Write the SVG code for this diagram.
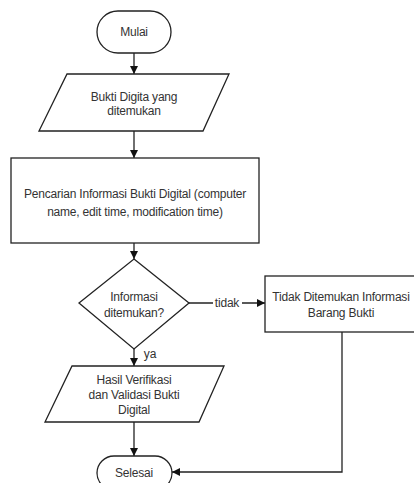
<svg xmlns="http://www.w3.org/2000/svg" width="414" height="483" viewBox="0 0 414 483">
<defs>
<style>
.s{fill:#fff;stroke:#222;stroke-width:1.3}
.t{font-family:"Liberation Sans",Arial,sans-serif;font-size:12px;fill:#333;text-anchor:middle;letter-spacing:-0.2px}
.c{fill:none;stroke:#222;stroke-width:1.3}
</style>
<marker id="a" viewBox="0 0 10 10" refX="10" refY="5" markerWidth="8" markerHeight="9" markerUnits="userSpaceOnUse" orient="auto"><path d="M0,0L10,5L0,10z" fill="#111"/></marker>
</defs>
<rect width="414" height="483" fill="#fff"/>
<g id="connectors">
<line class="c" x1="134" y1="53" x2="134" y2="74" marker-end="url(#a)"/>
<line class="c" x1="134" y1="131" x2="134" y2="158" marker-end="url(#a)"/>
<line class="c" x1="134" y1="243" x2="134" y2="259" marker-end="url(#a)"/>
<line class="c" x1="189" y1="303" x2="265" y2="303" marker-end="url(#a)"/>
<line class="c" x1="134" y1="349" x2="134" y2="366" marker-end="url(#a)"/>
<line class="c" x1="134" y1="422" x2="134" y2="456" marker-end="url(#a)"/>
<polyline class="c" points="342,332 342,472 172,472" marker-end="url(#a)"/>
<rect x="213" y="297" width="29" height="12" fill="#fff"/>
<text class="t" x="227" y="307">tidak</text>
<text class="t" x="150" y="358">ya</text>
</g>
<g id="mulai">
<rect class="s" x="97" y="11" width="74" height="42" rx="21"/>
<text class="t" x="134" y="36">Mulai</text>
</g>
<g id="bukti">
<polygon class="s" points="67,74 229,74 203,131 39,131"/>
<text class="t" x="134" y="101">Bukti Digita yang</text>
<text class="t" x="134" y="115">ditemukan</text>
</g>
<g id="pencarian">
<rect class="s" x="11" y="158" width="248" height="85"/>
<text class="t" x="135" y="198">Pencarian Informasi Bukti Digital (computer</text>
<text class="t" x="135" y="216">name, edit time, modification time)</text>
</g>
<g id="keputusan">
<polygon class="s" points="134,259 189,303 134,349 79,303"/>
<text class="t" x="134" y="301">Informasi</text>
<text class="t" x="134" y="317">ditemukan?</text>
</g>
<g id="tidakditemukan">
<rect class="s" x="265" y="276" width="160" height="56"/>
<text class="t" x="341" y="301">Tidak Ditemukan Informasi</text>
<text class="t" x="341" y="317">Barang Bukti</text>
</g>
<g id="hasil">
<polygon class="s" points="72,366 224,366 199,422 45,422"/>
<text class="t" x="134" y="384">Hasil Verifikasi</text>
<text class="t" x="134" y="399">dan Validasi Bukti</text>
<text class="t" x="134" y="414">Digital</text>
</g>
<g id="selesai">
<rect class="s" x="97" y="456" width="75" height="34" rx="17"/>
<text class="t" x="134" y="477">Selesai</text>
</g>
</svg>
